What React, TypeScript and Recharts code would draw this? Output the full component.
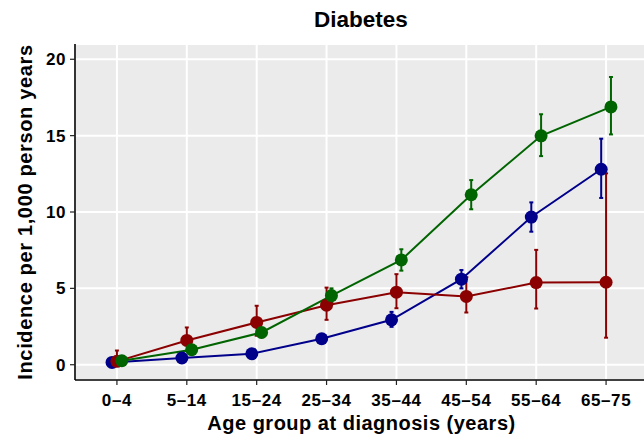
import { LineChart, Line, XAxis, YAxis, CartesianGrid, ErrorBar, Label } from 'recharts'

const ageGroups = ['0–4', '5–14', '15–24', '25–34', '35–44', '45–54', '55–64', '65–75']
const yTicks = [0, 5, 10, 15, 20]

const blueEst = [0.15, 0.44, 0.72, 1.7, 2.94, 5.6, 9.67, 12.8]
const blueLo = [0.05, 0.3, 0.58, 1.5, 2.48, 5.0, 8.71, 10.92]
const blueHi = [0.25, 0.58, 0.86, 1.9, 3.46, 6.2, 10.63, 14.8]

const redEst = [0.22, 1.59, 2.77, 3.9, 4.75, 4.47, 5.38, 5.4]
const redLo = [0.0, 0.9, 1.9, 2.94, 3.7, 3.42, 3.68, 1.77]
const redHi = [0.93, 2.44, 3.86, 5.05, 5.93, 5.73, 7.52, 12.53]

const greenEst = [0.26, 0.98, 2.11, 4.53, 6.86, 11.13, 14.99, 16.88]
const greenLo = [0.12, 0.75, 1.8, 4.1, 6.16, 10.18, 13.66, 15.08]
const greenHi = [0.4, 1.2, 2.4, 5.0, 7.56, 12.09, 16.4, 18.84]

const FONT = '"Liberation Sans", Arial, Helvetica, sans-serif'

// ggplot-style dodge: shift each group a little along x
const build = (est: number[], lo: number[], hi: number[], shift: number) =>
  est.map((v, i) => ({ x: i + 1 + shift, y: v, err: [v - lo[i], hi[i] - v] }))

const series = [
  { key: 'blue', color: '#00008B', data: build(blueEst, blueLo, blueHi, -0.07) },
  { key: 'red', color: '#8B0000', data: build(redEst, redLo, redHi, 0) },
  { key: 'green', color: '#006400', data: build(greenEst, greenLo, greenHi, 0.07) },
]

const tickStyle = { fill: '#000', fontSize: 17, fontWeight: 700, fontFamily: FONT, letterSpacing: 0.6 }

export default function App() {
  return (
    <div style={{ position: 'absolute', left: 0, top: 0, width: 644, height: 441, overflow: 'hidden', background: '#fff' }}>
      <svg width={644} height={40} style={{ position: 'absolute', left: 0, top: 0 }}>
        <text x={361} y={27} textAnchor="middle" fontFamily={FONT} fontWeight={700} fontSize={22.5} fill="#000">
          Diabetes
        </text>
      </svg>
      <LineChart width={660} height={441} margin={{ top: 44, right: 12, bottom: 0, left: 0 }}>
        <CartesianGrid fill="#EBEBEB" stroke="#fff" strokeWidth={2} />
        <XAxis
          type="number"
          dataKey="x"
          domain={[0.4, 8.6]}
          ticks={[1, 2, 3, 4, 5, 6, 7, 8]}
          tickFormatter={(v: number) => ageGroups[Math.round(v) - 1]}
          height={61}
          allowDataOverflow
          tickSize={5}
          tickMargin={9}
          tick={tickStyle}
          axisLine={{ stroke: '#000', strokeWidth: 1.6 }}
          tickLine={{ stroke: '#222', strokeWidth: 1.2 }}
        >
          <Label
            content={({ viewBox }: any) => (
              <text x={viewBox.x + viewBox.width / 2} y={viewBox.y + 50} textAnchor="middle"
                fontFamily={FONT} fontWeight={700} fontSize={20} letterSpacing={0.5} fill="#000">
                Age group at diagnosis (years)
              </text>
            )}
          />
        </XAxis>
        <YAxis
          type="number"
          domain={[-1, 21]}
          ticks={yTicks}
          width={75}
          allowDataOverflow
          tickSize={5}
          tickMargin={4}
          tick={tickStyle}
          axisLine={{ stroke: '#000', strokeWidth: 1.6 }}
          tickLine={{ stroke: '#222', strokeWidth: 1.2 }}
        >
          <Label
            content={({ viewBox }: any) => {
              const cy = viewBox.y + viewBox.height / 2
              return (
                <text x={32} y={cy} transform={`rotate(-90, 32, ${cy})`} textAnchor="middle"
                  fontFamily={FONT} fontWeight={700} fontSize={20} letterSpacing={0.65} fill="#000">
                  Incidence per 1,000 person years
                </text>
              )
            }}
          />
        </YAxis>
        {series.map(s => (
          <Line
            key={s.key}
            data={s.data}
            dataKey="y"
            type="linear"
            stroke={s.color}
            strokeWidth={2}
            dot={{ r: 6.5, fill: s.color, stroke: s.color, strokeWidth: 0 }}
            activeDot={false}
            isAnimationActive={false}
          >
            <ErrorBar dataKey="err" direction="y" width={2} stroke={s.color} strokeWidth={2} />
          </Line>
        ))}
      </LineChart>
    </div>
  )
}
